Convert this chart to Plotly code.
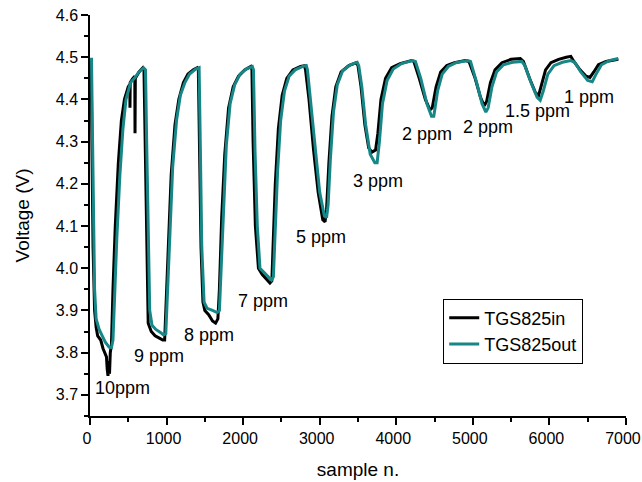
import plotly.graph_objects as go

# TGS825in (black)
in_x = [0, 15, 25, 40, 60, 80, 100, 140, 170, 200, 215, 225, 235, 245, 255, 265, 280, 300, 330, 370, 410, 450, 500, 520, 522, 525, 560, 585, 588, 592, 640, 690, 705,
        720, 740, 760, 800, 850, 900, 950, 975, 990, 1020, 1060, 1110, 1160, 1220, 1280, 1350, 1400, 1415,
        1430, 1450, 1475, 1500, 1550, 1600, 1640, 1670, 1690, 1720, 1760, 1810, 1870, 1940, 2020, 2100, 2115,
        2130, 2160, 2200, 2250, 2300, 2350, 2375, 2390, 2420, 2460, 2510, 2570, 2650, 2750, 2800, 2815,
        2860, 2920, 2980, 3040, 3070, 3090, 3120, 3160, 3210, 3280, 3380, 3480, 3500,
        3540, 3590, 3640, 3680, 3730, 3760, 3800, 3860, 3940, 4050, 4200, 4230,
        4300, 4380, 4440, 4470, 4520, 4580, 4660, 4760, 4900, 4950,
        5030, 5100, 5150, 5180, 5230, 5290, 5380, 5500, 5620, 5660,
        5740, 5820, 5860, 5890, 5950, 6020, 6120, 6220, 6280, 6320,
        6400, 6480, 6530, 6580, 6640, 6740, 6900]
in_y = [4.49, 4.49, 4.30, 4.05, 3.90, 3.86, 3.84, 3.83, 3.81, 3.795, 3.79, 3.76, 3.745, 3.78, 3.75, 3.80, 3.82, 3.95, 4.10, 4.25, 4.35, 4.40, 4.43, 4.435, 4.38, 4.44, 4.45, 4.455, 4.32, 4.45, 4.465, 4.475, 4.47,
        4.30, 4.00, 3.87, 3.85, 3.84, 3.835, 3.83, 3.83, 3.90, 4.05, 4.22, 4.34, 4.40, 4.44, 4.46, 4.47, 4.475, 4.47,
        4.30, 4.05, 3.92, 3.90, 3.89, 3.875, 3.87, 3.88, 3.95, 4.12, 4.27, 4.38, 4.43, 4.455, 4.47, 4.478, 4.47,
        4.30, 4.10, 4.00, 3.985, 3.975, 3.965, 3.97, 4.05, 4.20, 4.33, 4.41, 4.45, 4.47, 4.478, 4.48, 4.47,
        4.40, 4.28, 4.18, 4.115, 4.11, 4.14, 4.25, 4.36, 4.43, 4.465, 4.48, 4.487, 4.48,
        4.43, 4.34, 4.285, 4.275, 4.28, 4.32, 4.40, 4.45, 4.475, 4.485, 4.492, 4.49,
        4.45, 4.40, 4.375, 4.38, 4.43, 4.465, 4.48, 4.487, 4.492, 4.49,
        4.45, 4.405, 4.385, 4.395, 4.44, 4.47, 4.487, 4.495, 4.497, 4.49,
        4.45, 4.415, 4.41, 4.43, 4.47, 4.487, 4.495, 4.50, 4.502, 4.49,
        4.47, 4.455, 4.452, 4.465, 4.482, 4.49, 4.495]

# TGS825out (teal)
out_x = [0, 20, 30, 45, 60, 80, 120, 160, 200, 250, 280, 300, 320, 350, 390, 430, 470, 510, 530, 580, 640, 700, 725,
         740, 760, 780, 810, 860, 920, 960, 990, 1010, 1040, 1080, 1130, 1180, 1240, 1300, 1380, 1425,
         1440, 1460, 1490, 1530, 1600, 1660, 1690, 1710, 1740, 1780, 1830, 1890, 1960, 2040, 2120, 2135,
         2155, 2185, 2220, 2270, 2330, 2370, 2395, 2420, 2450, 2490, 2540, 2600, 2680, 2780, 2825, 2840,
         2880, 2940, 3000, 3060, 3090, 3110, 3140, 3180, 3230, 3300, 3400, 3490, 3510,
         3550, 3600, 3660, 3720, 3750, 3780, 3820, 3880, 3960, 4070, 4210, 4250,
         4320, 4400, 4460, 4490, 4540, 4600, 4680, 4780, 4930, 4970,
         5050, 5120, 5170, 5200, 5250, 5310, 5400, 5520, 5640, 5680,
         5760, 5840, 5880, 5920, 5980, 6060, 6170, 6280, 6330,
         6410, 6500, 6560, 6610, 6680, 6780, 6900]
out_y = [4.495, 4.495, 4.35, 4.10, 3.95, 3.88, 3.855, 3.84, 3.825, 3.813, 3.812, 3.83, 3.93, 4.07, 4.22, 4.33, 4.40, 4.43, 4.44, 4.45, 4.465, 4.475, 4.47,
         4.30, 4.05, 3.90, 3.865, 3.855, 3.848, 3.842, 3.845, 3.93, 4.08, 4.24, 4.35, 4.41, 4.44, 4.46, 4.472, 4.475,
         4.30, 4.05, 3.92, 3.905, 3.90, 3.895, 3.90, 3.99, 4.15, 4.29, 4.39, 4.435, 4.46, 4.472, 4.478, 4.47,
         4.28, 4.10, 4.00, 3.99, 3.978, 3.972, 3.98, 4.09, 4.23, 4.35, 4.42, 4.455, 4.47, 4.478, 4.48, 4.47,
         4.40, 4.28, 4.18, 4.125, 4.12, 4.15, 4.26, 4.37, 4.435, 4.468, 4.482, 4.488, 4.48,
         4.43, 4.34, 4.27, 4.25, 4.25, 4.30, 4.39, 4.445, 4.472, 4.485, 4.492, 4.49,
         4.45, 4.39, 4.36, 4.36, 4.42, 4.46, 4.478, 4.487, 4.492, 4.49,
         4.44, 4.39, 4.37, 4.38, 4.43, 4.465, 4.482, 4.488, 4.49, 4.48,
         4.44, 4.405, 4.398, 4.42, 4.46, 4.48, 4.488, 4.492, 4.488,
         4.465, 4.445, 4.442, 4.46, 4.482, 4.492, 4.497]

# Concentration labels
label_text = ["10ppm", "9 ppm", "8 ppm", "7 ppm", "5 ppm", "3 ppm", "2 ppm", "2 ppm", "1.5 ppm", "1 ppm"]
label_x = [418, 901, 1554, 2259, 3017, 3761, 4401, 5198, 5851, 6517]
label_y = [3.716, 3.792, 3.842, 3.922, 4.074, 4.207, 4.318, 4.335, 4.373, 4.406]

x_ticks = [0, 1000, 2000, 3000, 4000, 5000, 6000, 7000]
y_ticks = [3.7, 3.8, 3.9, 4.0, 4.1, 4.2, 4.3, 4.4, 4.5, 4.6]

FONT = "Liberation Sans, Arial, sans-serif"
TEAL = "#178686"

fig = go.Figure()
fig.add_trace(go.Scatter(x=in_x, y=in_y, mode="lines", name="TGS825in",
                         line=dict(color="black", width=3)))
fig.add_trace(go.Scatter(x=out_x, y=out_y, mode="lines", name="TGS825out",
                         line=dict(color=TEAL, width=3)))

for t, xx, yy in zip(label_text, label_x, label_y):
    fig.add_annotation(x=xx, y=yy, text=t, showarrow=False,
                       font=dict(family=FONT, size=18, color="black"))

fig.update_layout(
    width=642, height=482,
    margin=dict(l=90, r=16, t=15, b=66),
    paper_bgcolor="white", plot_bgcolor="white",
    font=dict(family=FONT, size=16, color="black"),
    showlegend=True,
    legend=dict(x=0.659, y=0.293, xanchor="left", yanchor="top",
                bgcolor="white", bordercolor="black", borderwidth=1,
                font=dict(family=FONT, size=18), tracegroupgap=0),
)
fig.update_xaxes(range=[0, 7000.5], tickvals=x_ticks, showgrid=False, zeroline=False,
                 automargin=False,
                 showline=True, linecolor="black", linewidth=1.5,
                 ticks="outside", ticklen=7, tickwidth=1.5, tickcolor="black",
                 ticklabeloverflow="allow", ticklabelshift=-3,
                 minor=dict(ticks="outside", ticklen=4, tickwidth=1.5, tickcolor="black", dtick=500),
                 title=dict(text="sample n.", font=dict(family=FONT, size=19), standoff=17),
                 tickfont=dict(family=FONT, size=16))
fig.update_yaxes(range=[3.65, 4.6], tickvals=y_ticks, tickformat=".1f", showgrid=False, zeroline=False,
                 automargin=False,
                 showline=True, linecolor="black", linewidth=1.5,
                 ticks="outside", ticklen=7, tickwidth=1.5, tickcolor="black",
                 minor=dict(ticks="outside", ticklen=4, tickwidth=1.5, tickcolor="black", tick0=3.65, dtick=0.1),
                 title=dict(text="Voltage (V)", font=dict(family=FONT, size=19), standoff=21),
                 tickfont=dict(family=FONT, size=16))

fig.write_html("out.html")
